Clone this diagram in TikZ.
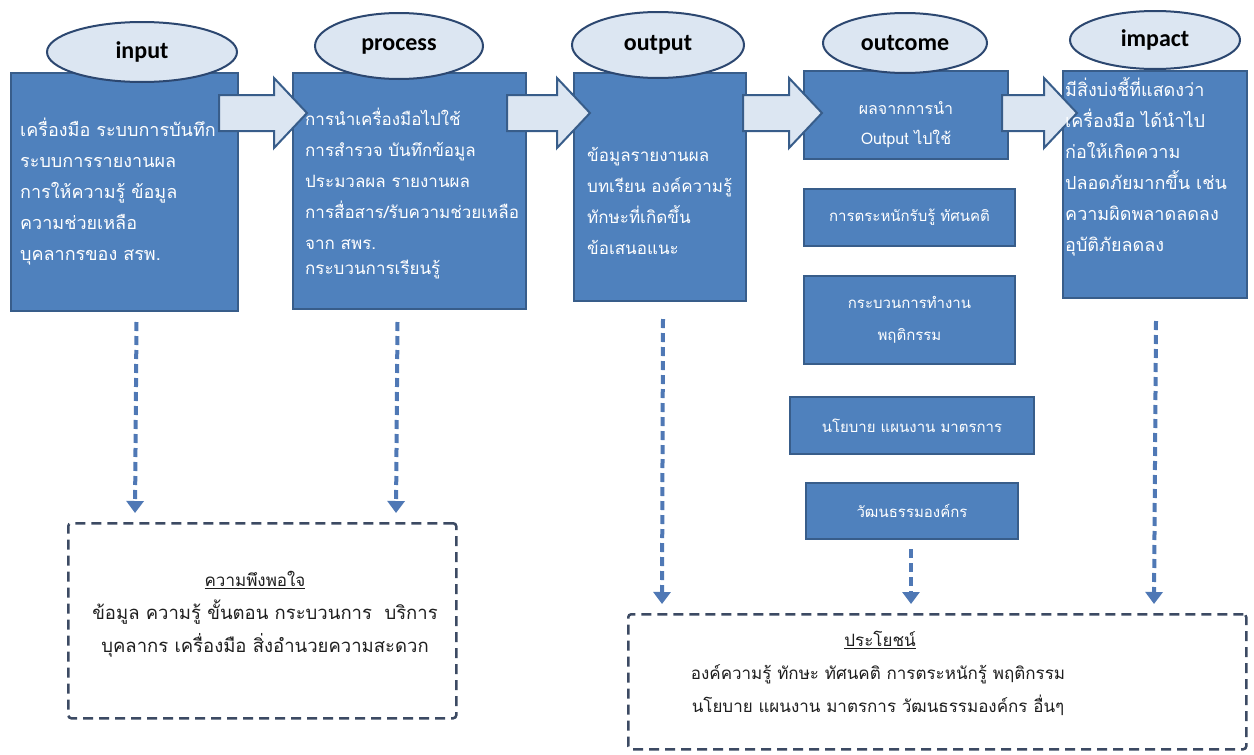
\documentclass[tikz,border=0pt]{standalone}
\usepackage{fontspec}
\newfontfamily\thai[Script=Thai]{Loma}
\newfontfamily\lat{Carlito}
\usetikzlibrary{calc,arrows.meta,shapes.geometric}
\definecolor{boxblue}{HTML}{4F81BD}
\definecolor{boxedge}{HTML}{385D8A}
\definecolor{lightblue}{HTML}{DCE6F2}
\definecolor{elledge}{HTML}{2C4770}
\definecolor{dasharrow}{HTML}{4F78B5}
\definecolor{dashedge}{HTML}{3C4A63}
\definecolor{darktext}{HTML}{1E1E1E}
\begin{document}
\begin{tikzpicture}[x=1pt,y=-1pt,
  bbox/.style={draw=boxedge, line width=2pt, fill=boxblue, inner sep=0pt, anchor=north west},
  sbox/.style={bbox},
  stext/.style={text=white, align=center, font=\thai\fontsize{15}{32}\selectfont},
  ell/.style={ellipse, draw=elledge, line width=2pt, fill=lightblue, inner sep=0pt, font=\lat\bfseries\fontsize{24}{28}\selectfont, text=black},
  btext/.style={anchor=north west, inner sep=0pt, align=left, text=white, font=\thai\fontsize{17}{31}\selectfont},
  bigtext/.style={btext, font=\thai\fontsize{18}{31}\selectfont},
  barrow/.style={draw=boxedge, line width=2pt, fill=lightblue, line join=miter},
  darr/.style={draw=dasharrow, line width=4pt, dash pattern=on 9pt off 5pt, -{Triangle[width=17pt,length=12pt]}},
  dbox/.style={draw=dashedge, line width=2.5pt, dash pattern=on 10pt off 6pt, rounded corners=3pt, inner sep=0pt, anchor=north west},
  btitle/.style={font=\thai\fontsize{17}{33}\selectfont, text=darktext},
  bbody/.style={font=\thai\fontsize{17}{33}\selectfont, text=darktext, align=center}
]
\useasboundingbox (0,0) rectangle (1254,755);
\fill[white] (0,0) rectangle (1254,755);

% main boxes
\node[bbox, minimum width=227, minimum height=238] (in) at (10,72) {};
\node[bbox, minimum width=233, minimum height=236] (pr) at (292,72) {};
\node[bbox, minimum width=172, minimum height=228] (op) at (573,72) {};
\node[bbox, minimum width=204, minimum height=88] (oc) at (803,70) {};
\node[bbox, minimum width=184, minimum height=227] (im) at (1062,70) {};

% ellipses
\node[ell, minimum width=190, minimum height=60] (eIn) at (142,52) {input};
\node[ell, minimum width=168, minimum height=66] (ePr) at (399,46) {process};
\node[ell, minimum width=172, minimum height=66] (eOp) at (658,45) {output};
\node[ell, minimum width=164, minimum height=60] (eOc) at (905,43) {outcome};
\node[ell, minimum width=170, minimum height=58] (eIm) at (1155,40) {impact};

% block arrows
\coordinate (arrY) at (0,113);
\newcommand\barr[4]{%
  \draw[barrow] ($(#1.east|-arrY)+(#3,-18)$) -- ($(#2.west|-arrY)+(#4-33,-18)$)
   -- ($(#2.west|-arrY)+(#4-33,-35)$) -- ($(#2.west|-arrY)+(#4,0)$)
   -- ($(#2.west|-arrY)+(#4-33,35)$) -- ($(#2.west|-arrY)+(#4-33,18)$)
   -- ($(#1.east|-arrY)+(#3,18)$) -- cycle;}
\barr{in}{pr}{-20}{15}
\barr{pr}{op}{-20}{17}
\barr{op}{oc}{-4}{19}
\barr{oc}{im}{-7}{15}

% box texts
\node[bigtext] (tIn) at ($(in.north west)+(10,46)$) {เครื่องมือ ระบบการบันทึก\\ระบบการรายงานผล\\การให้ความรู้ ข้อมูล\\ความช่วยเหลือ\\บุคลากรของ สรพ.};
\node[btext] (tPr) at ($(pr.north west)+(13,36)$) {การนำเครื่องมือไปใช้\\การสำรวจ บันทึกข้อมูล\\ประมวลผล รายงานผล\\การสื่อสาร/รับความช่วยเหลือ\\จาก สพร.\\[-6pt]กระบวนการเรียนรู้};
\node[btext] (tOp) at ($(op.north west)+(14,75)$) {ข้อมูลรายงานผล\\บทเรียน องค์ความรู้\\ทักษะที่เกิดขึ้น\\ข้อเสนอแนะ};
\node[btext, align=center, anchor=center, font=\thai\fontsize{16}{30}\selectfont] (tOc) at ($(oc.center)+(0,10)$) {ผลจากการนำ\\Output ไปใช้};
\node[bigtext] (tIm) at ($(im.north west)+(3,7)$) {มีสิ่งบ่งชี้ที่แสดงว่า\\เครื่องมือ ได้นำไป\\ก่อให้เกิดความ\\ปลอดภัยมากขึ้น เช่น\\ความผิดพลาดลดลง\\อุบัติภัยลดลง};

% outcome sub boxes
\node[sbox, minimum width=211, minimum height=57] (s1) at (803,188) {};
\node[stext] (s1t) at (s1.center) {การตระหนักรับรู้ ทัศนคติ};
\node[sbox, minimum width=211, minimum height=88] (s2) at (803,275) {};
\node[stext] (s2t) at (s2.center) {กระบวนการทำงาน\\พฤติกรรม};
\node[sbox, minimum width=244, minimum height=57] (s3) at (789,396) {};
\node[stext] (s3t) at (s3.center) {นโยบาย แผนงาน มาตรการ};
\node[sbox, minimum width=212, minimum height=56] (s4) at (805,482) {};
\node[stext] (s4t) at (s4.center) {วัฒนธรรมองค์กร};

% dashed boxes
\node[dbox, minimum width=388, minimum height=195] (sat) at (67,522) {};
\node[dbox, minimum width=618, minimum height=135] (ben) at (627,613) {};

\node[btitle] (satT) at (255,580) {\underline{ความพึงพอใจ}};
\node[bbody, font=\thai\fontsize{18.5}{33}\selectfont] (satB) at (265,629) {ข้อมูล ความรู้ ขั้นตอน กระบวนการ~ บริการ\\บุคลากร เครื่องมือ สิ่งอำนวยความสะดวก};
\node[btitle] (benT) at (880,640) {\underline{ประโยชน์}};
\node[bbody] (benB) at (878,690) {องค์ความรู้ ทักษะ ทัศนคติ การตระหนักรู้ พฤติกรรม\\นโยบาย แผนงาน มาตรการ วัฒนธรรมองค์กร อื่นๆ};

% dashed arrows
\draw[darr] ($(in.south)+(12,10)$) -- ($(sat.north west)+(68,-9)$);
\draw[darr] ($(pr.south)+(-12,12)$) -- ($(sat.north west)+(329,-9)$);
\draw[darr] ($(op.south)+(3,17)$) -- ($(ben.north west)+(35,-9)$);
\draw[darr] (s4.south -| ben.north west) ++(284,9) -- ($(ben.north west)+(284,-9)$);
\draw[darr] ($(im.south)+(1,22)$) -- ($(ben.north west)+(527,-9)$);
\end{tikzpicture}
\end{document}
